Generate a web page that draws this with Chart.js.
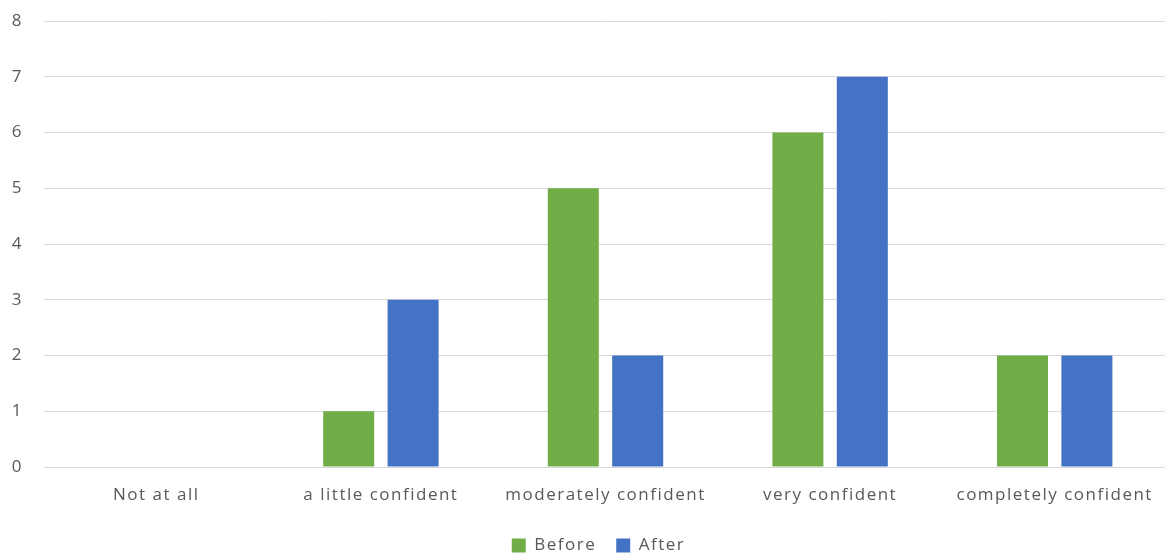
<!DOCTYPE html>
<html>
<head>
<meta charset="utf-8">
<script src="https://cdn.jsdelivr.net/npm/chart.js@4/dist/chart.umd.min.js"></script>
<style>
  html, body { margin: 0; padding: 0; background: #ffffff; overflow: hidden; }
  #wrap { width: 1167px; height: 557px; position: relative; }
</style>
</head>
<body>
<div id="wrap"><canvas id="chart"></canvas></div>
<script>
// Confidence levels reported before and after
const categories = ["Not at all", "a little confident", "moderately confident", "very confident", "completely confident"];
const beforeValues = [0, 1, 5, 6, 2];
const afterValues = [0, 3, 2, 7, 2];
const yTicks = [0, 1, 2, 3, 4, 5, 6, 7, 8];

const textColor = "#595959";
const gridColor = "#d9d9d9";
const fontFamily = "'Open Sans', 'Noto Sans', sans-serif";
const fontSize = 17;

// Slightly open tracking for all chart text
const letterSpacingPlugin = {
  id: "letterSpacing",
  beforeUpdate(chart) { chart.ctx.letterSpacing = "1.5px"; },
  beforeDraw(chart) { chart.ctx.letterSpacing = "1.5px"; }
};

// Center the legend on its visible items (ignoring trailing item padding)
const legendOffsetPlugin = {
  id: "legendOffset",
  afterLayout(chart) {
    if (chart.legend) { chart.legend.left += 15; chart.legend.right += 15; }
  }
};

new Chart(document.getElementById("chart"), {
  type: "bar",
  data: {
    labels: categories,
    datasets: [
      { label: "Before", data: beforeValues, backgroundColor: "#70ad47", borderWidth: 0 },
      { label: "After", data: afterValues, backgroundColor: "#4472c4", borderWidth: 0 }
    ]
  },
  plugins: [letterSpacingPlugin, legendOffsetPlugin],
  options: {
    responsive: true,
    maintainAspectRatio: false,
    animation: false,
    layout: { padding: { top: 21, right: 0, left: 0, bottom: -7 } },
    datasets: { bar: { categoryPercentage: 0.5735, barPercentage: 0.792 } },
    scales: {
      x: {
        grid: { display: false },
        border: { display: false },
        ticks: { color: textColor, font: { family: fontFamily, size: fontSize }, padding: 10, maxRotation: 0 },
        afterFit: (s) => { s.height = 50; }
      },
      y: {
        min: 0,
        max: 8,
        afterBuildTicks: (s) => { s.ticks = yTicks.map(v => ({ value: v })); },
        grid: { color: gridColor, lineWidth: 1, drawTicks: false },
        border: { display: false },
        ticks: { color: textColor, font: { family: fontFamily, size: fontSize }, padding: 21 },
        afterFit: (s) => { s.width = 44; s.paddingTop = 0; s.paddingBottom = 0; }
      }
    },
    plugins: {
      legend: {
        position: "bottom",
        labels: {
          color: textColor,
          font: { family: fontFamily, size: fontSize },
          boxWidth: 14,
          boxHeight: 14,
          padding: 20
        }
      },
      tooltip: { enabled: false }
    }
  }
});
</script>
</body>
</html>
